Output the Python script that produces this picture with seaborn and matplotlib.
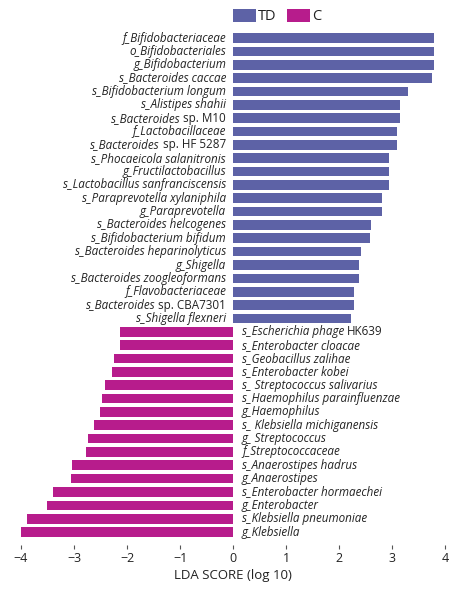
import pandas as pd
import seaborn as sns
import matplotlib.pyplot as plt
from matplotlib.transforms import offset_copy

# LEfSe results: taxa enriched in TD (positive) and C (negative)
# labels with a '|' have an italic part (before) and an upright part (after)
td_taxa = [
    'f_Bifidobacteriaceae', 'o_Bifidobacteriales', 'g_Bifidobacterium',
    's_Bacteroides caccae', 's_Bifidobacterium longum', 's_Alistipes shahii',
    's_Bacteroides|sp. M10', 'f_Lactobacillaceae',
    's_Bacteroides|sp. HF 5287', 's_Phocaeicola salanitronis',
    'g_Fructilactobacillus', 's_Lactobacillus sanfranciscensis',
    's_Paraprevotella xylaniphila', 'g_Paraprevotella',
    's_Bacteroides helcogenes', 's_Bifidobacterium bifidum',
    's_Bacteroides heparinolyticus', 'g_Shigella',
    's_Bacteroides zoogleoformans', 'f_Flavobacteriaceae',
    's_Bacteroides|sp. CBA7301', 's_Shigella flexneri',
]
td_scores = [3.79, 3.79, 3.79, 3.75, 3.30, 3.15, 3.15, 3.09, 3.09, 2.94, 2.94,
             2.94, 2.81, 2.81, 2.60, 2.58, 2.42, 2.38, 2.38, 2.28, 2.28, 2.23]

c_taxa = [
    's_Escherichia phage|HK639', 's_Enterobacter cloacae',
    's_Geobacillus zalihae', 's_Enterobacter kobei',
    's_ Streptococcus salivarius', 's_Haemophilus parainfluenzae',
    'g_Haemophilus', 's_ Klebsiella michiganensis', 'g_ Streptococcus',
    'f_Streptococcaceae', 's_Anaerostipes hadrus', 'g_Anaerostipes',
    's_Enterobacter hormaechei', 'g_Enterobacter', 's_Klebsiella pneumoniae',
    'g_Klebsiella',
]
c_scores = [-2.13, -2.13, -2.25, -2.28, -2.42, -2.47, -2.51, -2.62, -2.74,
            -2.77, -3.04, -3.06, -3.40, -3.51, -3.89, -4.00]

df = pd.DataFrame({
    'taxon': td_taxa + c_taxa,
    'score': td_scores + c_scores,
    'group': ['TD'] * len(td_taxa) + ['C'] * len(c_taxa),
})

sns.set_style('white')
plt.rcParams['font.family'] = ['Open Sans', 'DejaVu Sans']

fig = plt.figure(figsize=(4.58, 5.89), dpi=100)
ax = fig.add_axes([21 / 458, 44 / 589, 424 / 458, 515 / 589])

sns.barplot(data=df, x='score', y='taxon', hue='group', orient='h',
            palette={'TD': '#5d62a6', 'C': '#b71c8c'}, dodge=False,
            saturation=1, width=0.72, linewidth=0, ax=ax)

ax.set_xlim(-4, 4)
ax.set_ylim(len(df) - 0.03, -0.6)
sns.despine(ax=ax, left=True, bottom=True)
ax.set_yticks([])
ax.set_ylabel('')
ax.set_xticks(range(-4, 5))
ax.tick_params(axis='x', length=3, width=0.8, color='#555555', labelsize=9,
               labelcolor='#222222', pad=2, bottom=True)
ax.set_xlabel('LDA SCORE (log 10)', fontsize=9.5, color='#222222', labelpad=3)

# taxon names: TD on the left of zero, C on the right
left_tr = offset_copy(ax.transData, fig=fig, x=-7, y=0, units='dots')
right_tr = offset_copy(ax.transData, fig=fig, x=9, y=0, units='dots')
lab_kw = dict(fontsize=8.4, color='#222222')
for i, row in df.iterrows():
    it_part, _, rm_part = row['taxon'].partition('|')
    if row['group'] == 'TD':
        if rm_part:
            t = ax.text(0, i, rm_part, transform=left_tr, ha='right',
                        va='center', **lab_kw)
            ax.annotate(it_part, xy=(0, 0), xycoords=t, xytext=(-3, 0),
                        textcoords='offset pixels', ha='right', va='bottom',
                        fontstyle='italic', **lab_kw)
        else:
            ax.text(0, i, it_part, transform=left_tr, ha='right', va='center',
                    fontstyle='italic', **lab_kw)
    else:
        t = ax.text(0, i, it_part, transform=right_tr, ha='left', va='center',
                    fontstyle='italic', **lab_kw)
        if rm_part:
            ax.annotate(rm_part, xy=(1, 0), xycoords=t, xytext=(3, 0),
                        textcoords='offset pixels', ha='left', va='bottom',
                        **lab_kw)

sns.move_legend(ax, 'upper left', bbox_to_anchor=(233 / 458, 1 - 9 / 589),
                bbox_transform=fig.transFigure, ncol=2, frameon=False,
                title=None, fontsize=10.5, handlelength=1.58, handleheight=0.95,
                handletextpad=0.15, columnspacing=0.7, borderpad=0,
                borderaxespad=0)
for t in ax.get_legend().get_texts():
    t.set_color('#222222')

fig.savefig('out.png', dpi=100)
